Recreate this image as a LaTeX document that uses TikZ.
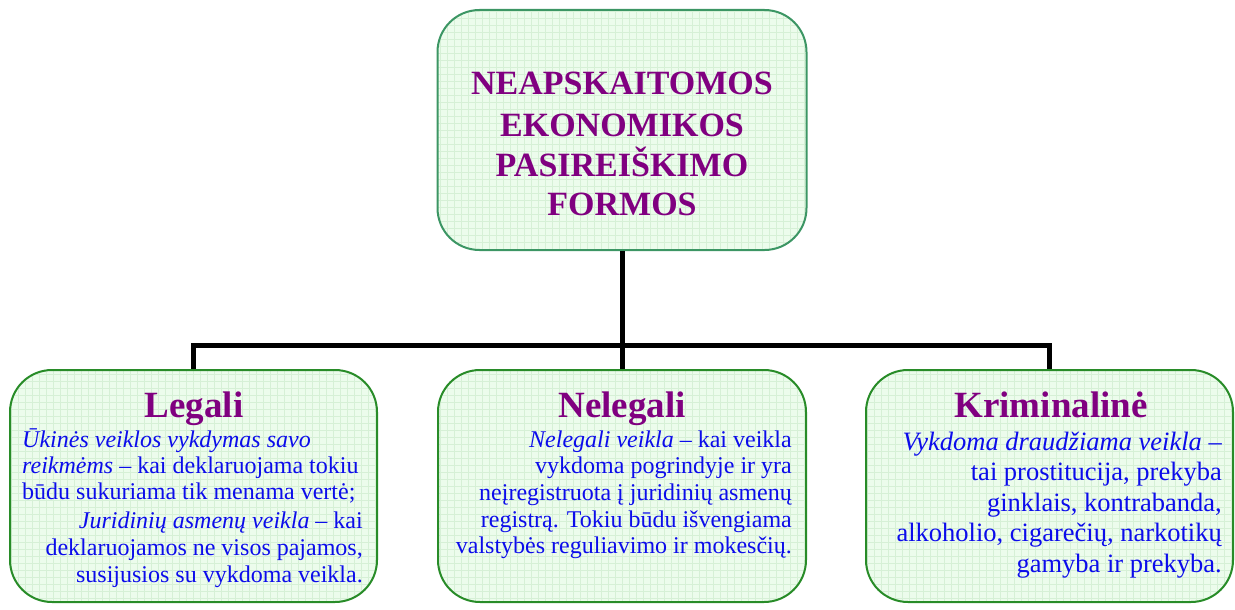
\documentclass[tikz,border=0pt]{standalone}
\usepackage{fontspec}
\setmainfont{Liberation Serif}
\definecolor{ttl}{RGB}{128,0,128}
\definecolor{txt}{RGB}{12,12,235}
\definecolor{bfill}{RGB}{236,252,236}
\definecolor{bgrid}{RGB}{214,240,214}
\definecolor{topline}{RGB}{60,150,100}
\definecolor{botline}{RGB}{40,140,40}
\begin{document}
\begin{tikzpicture}[x=1pt,y=-1pt,
  box/.style={draw=botline, line width=2pt, rounded corners=42pt, fill=bfill,
    minimum width=367pt, minimum height=232pt, inner sep=0pt,
    path picture={\draw[bgrid, line width=0.5pt] (path picture bounding box.south west) grid[step=7pt] (path picture bounding box.north east);}},
  conn/.style={line width=5pt, black, line join=miter},
  ttlf/.style={text=ttl, font=\fontsize{34}{40}\selectfont\bfseries, anchor=base, inner sep=0pt},
  hd/.style={text=ttl, font=\fontsize{37}{40}\selectfont\bfseries, anchor=base, inner sep=0pt},
  bl/.style={text=txt, font=\fontsize{24}{26}\selectfont, inner sep=0pt},
  br/.style={text=txt, font=\fontsize{26.5}{30}\selectfont, inner sep=0pt}
]
\useasboundingbox (0,0) rectangle (1235,610);

% boxes
\node[box, draw=topline, minimum width=369pt, minimum height=240pt] (top) at (622,130) {};
\node[box] (legal) at (193.5,486) {};
\node[box, minimum width=368pt] (nelegal) at (622,486) {};
\node[box] (krim) at (1049.5,486) {};

% connectors
\coordinate (bus) at (622,345);
\draw[conn] (top.south) -- (nelegal.north);
\draw[conn] (legal.north) |- (bus) -| (krim.north);

% title
\node[ttlf] (t1) at (622,95) {NEAPSKAITOMOS};
\node[ttlf] (t2) at (622,136) {EKONOMIKOS};
\node[ttlf] (t3) at (622,176) {PASIREIŠKIMO};
\node[ttlf] (t4) at (622,215) {FORMOS};

% headings
\node[hd] (h1) at (194,417) {Legali};
\node[hd] (h2) at (622,417) {Nelegali};
\node[hd] (h3) at (1051,417) {Kriminalinė};

% left text
\node[bl, anchor=base west] (l1) at (22,447) {\textit{Ūkinės veiklos vykdymas savo}};
\node[bl, anchor=base west] (l2) at (22,473) {\textit{reikmėms} – kai deklaruojama tokiu};
\node[bl, anchor=base west] (l3) at (22,499) {būdu sukuriama tik menama vertė;};
\node[bl, anchor=base east] (l4) at (363,528) {\textit{Juridinių asmenų veikla} – kai};
\node[bl, anchor=base east] (l5) at (363,555) {deklaruojamos ne visos pajamos,};
\node[bl, anchor=base east] (l6) at (363,582) {susijusios su vykdoma veikla.};

% middle text
\node[bl, anchor=base east] (m1) at (792,447) {\textit{Nelegali veikla} – kai veikla};
\node[bl, anchor=base east] (m2) at (792,473) {vykdoma pogrindyje ir yra};
\node[bl, anchor=base east] (m3) at (792,500) {neįregistruota į juridinių asmenų};
\node[bl, anchor=base east] (m4) at (792,527) {registrą. Tokiu būdu išvengiama};
\node[bl, anchor=base east] (m5) at (792,553) {valstybės reguliavimo ir mokesčių.};

% right text
\node[br, anchor=base east] (r1) at (1222,450) {\textit{Vykdoma draudžiama veikla} –};
\node[br, anchor=base east] (r2) at (1222,480) {tai prostitucija, prekyba};
\node[br, anchor=base east] (r3) at (1222,511) {ginklais, kontrabanda,};
\node[br, anchor=base east] (r4) at (1222,541) {alkoholio, cigarečių, narkotikų};
\node[br, anchor=base east] (r5) at (1222,572) {gamyba ir prekyba.};
\end{tikzpicture}
\end{document}
